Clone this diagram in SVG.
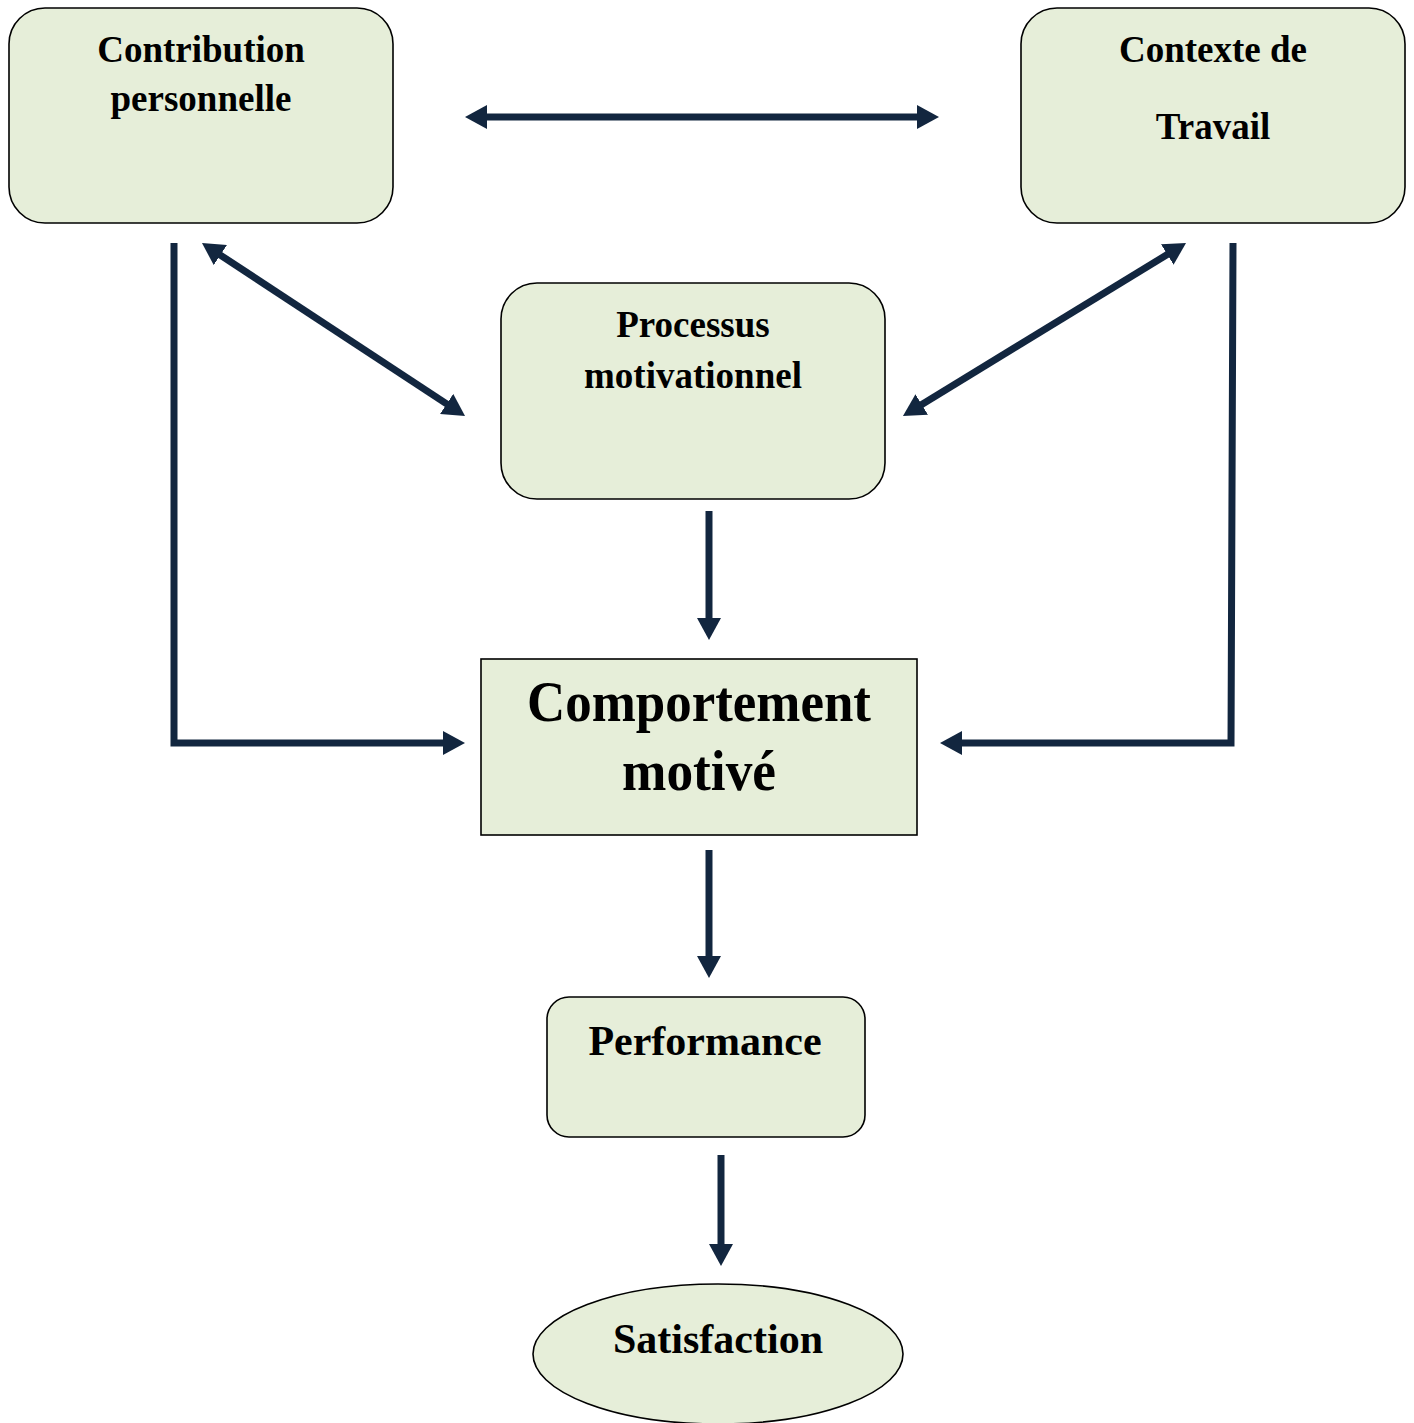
<svg xmlns="http://www.w3.org/2000/svg" width="1414" height="1423" viewBox="0 0 1414 1423">
  <style>
    .box { fill: #e6eed9; stroke: #000; stroke-width: 1.6; }
    .lbl { font-family: "Liberation Serif", "Times New Roman", serif; font-weight: bold; fill: #000; text-anchor: middle; }
    .conn { fill: none; stroke: #12263f; stroke-width: 7; stroke-linejoin: miter; stroke-linecap: butt; }
  </style>
  <defs>
    <marker id="head" markerUnits="userSpaceOnUse" viewBox="0 0 22 24" refX="10" refY="12" markerWidth="22" markerHeight="24" orient="auto-start-reverse">
      <path d="M0,0 L22,12 L0,24 z" fill="#12263f"/>
    </marker>
  </defs>
  <rect width="1414" height="1423" fill="#fff"/>

  <g id="connectors">
    <line class="conn" x1="477" y1="117" x2="927" y2="117" marker-start="url(#head)" marker-end="url(#head)"/>
    <line class="conn" x1="212" y1="249.6" x2="455" y2="409.4" marker-start="url(#head)" marker-end="url(#head)"/>
    <line class="conn" x1="1175.8" y1="249.3" x2="913.2" y2="409.7" marker-start="url(#head)" marker-end="url(#head)"/>
    <polyline class="conn" points="174,243 174,743 453,743" marker-end="url(#head)"/>
    <polyline class="conn" points="1233,243 1231,743 952,743" marker-end="url(#head)"/>
    <line class="conn" x1="709" y1="511" x2="709" y2="628" marker-end="url(#head)"/>
    <line class="conn" x1="709" y1="850" x2="709" y2="966" marker-end="url(#head)"/>
    <line class="conn" x1="721" y1="1155" x2="721" y2="1254" marker-end="url(#head)"/>
  </g>

  <g id="contribution">
    <rect class="box" x="9" y="8" width="384" height="215" rx="36"/>
    <text class="lbl" x="201" y="62" font-size="37">Contribution</text>
    <text class="lbl" x="201" y="111" font-size="37">personnelle</text>
  </g>

  <g id="contexte">
    <rect class="box" x="1021" y="8" width="384" height="215" rx="36"/>
    <text class="lbl" x="1213" y="62" font-size="37">Contexte de</text>
    <text class="lbl" x="1213" y="139" font-size="37">Travail</text>
  </g>

  <g id="processus">
    <rect class="box" x="501" y="283" width="384" height="216" rx="36"/>
    <text class="lbl" x="693" y="337" font-size="37">Processus</text>
    <text class="lbl" x="693" y="388" font-size="37">motivationnel</text>
  </g>

  <g id="comportement">
    <rect class="box" x="481" y="659" width="436" height="176"/>
    <text class="lbl" x="699" y="721" font-size="57" textLength="344" lengthAdjust="spacingAndGlyphs">Comportement</text>
    <text class="lbl" x="699" y="790" font-size="57" textLength="154" lengthAdjust="spacingAndGlyphs">motivé</text>
  </g>

  <g id="performance">
    <rect class="box" x="547" y="997" width="318" height="140" rx="22"/>
    <text class="lbl" x="705" y="1055" font-size="42">Performance</text>
  </g>

  <g id="satisfaction">
    <ellipse class="box" cx="718" cy="1354" rx="185" ry="70"/>
    <text class="lbl" x="718" y="1353" font-size="42">Satisfaction</text>
  </g>
</svg>
